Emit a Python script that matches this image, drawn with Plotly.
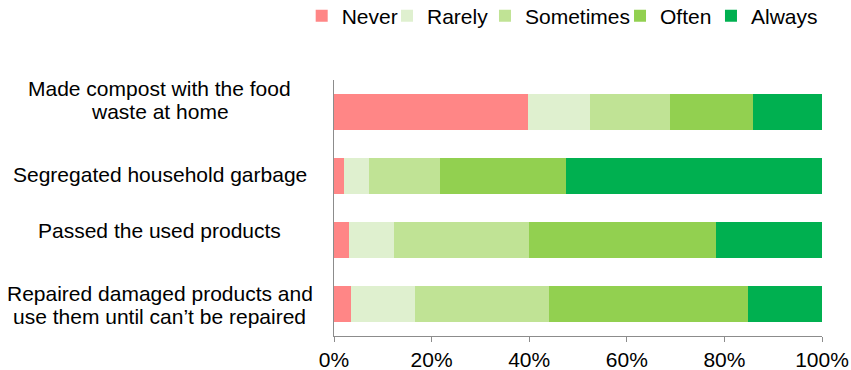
import plotly.graph_objects as go

categories = [
    "Made compost with the food<br>waste at home",
    "Segregated household garbage",
    "Passed the used products",
    "Repaired damaged products and<br>use them until can’t be repaired",
]
series_names = ["Never", "Rarely", "Sometimes", "Often", "Always"]
never = [39.8, 2.1, 3.0, 3.5]
rarely = [12.7, 5.1, 9.2, 13.1]
sometimes = [16.4, 14.6, 27.8, 27.4]
often = [16.9, 25.8, 38.3, 40.9]
always = [14.2, 52.4, 21.7, 15.1]
tick_vals = [0, 20, 40, 60, 80, 100]
tick_text = ["0%", "20%", "40%", "60%", "80%", "100%"]

# styling
colors = ["#FF8686", "#DFF0CF", "#C0E395", "#92D050", "#00B050"]
legend_x = [-0.0662, 0.1086, 0.3094, 0.5861, 0.7725]
label_line_shift = [[24, 1], [1.5], [9.5], [11, -12]]
FONT = "Liberation Sans, Arial, sans-serif"
FS = 21

values = [never, rarely, sometimes, often, always]

fig = go.Figure()
layout_legends = {}
for i, (name, vals, col) in enumerate(zip(series_names, values, colors)):
    key = "legend" if i == 0 else f"legend{i + 1}"
    fig.add_trace(go.Bar(
        y=categories, x=vals, name=name, orientation="h",
        marker=dict(color=col, line=dict(width=0)),
        legend=key,
    ))
    layout_legends[key] = dict(
        orientation="h", x=legend_x[i], xanchor="left", y=1.25, yanchor="middle",
        font=dict(size=FS, family=FONT, color="#000000"), itemclick=False,
        itemwidth=30, bgcolor="rgba(0,0,0,0)",
    )

for c, shifts in zip(categories, label_line_shift):
    for line, ys in zip(c.split("<br>"), shifts):
        fig.add_annotation(
            x=-0.357, xref="paper", y=c, yref="y", text=line, showarrow=False,
            xanchor="center", yanchor="middle", align="center", yshift=ys,
            font=dict(size=FS, color="#000000", family=FONT),
        )

fig.update_layout(
    barmode="stack",
    bargap=0.45,
    width=851, height=370,
    margin=dict(l=334, r=29, t=80, b=34, autoexpand=False),
    paper_bgcolor="white", plot_bgcolor="white",
    font=dict(family=FONT, size=FS, color="#000000"),
    showlegend=True,
    xaxis=dict(range=[0, 100], tickvals=tick_vals, ticktext=tick_text,
               showgrid=False, zeroline=False, showline=True, linecolor="#8c8c8c",
               linewidth=1, ticks="outside", ticklen=5, tickcolor="#8c8c8c",
               tickfont=dict(size=FS)),
    yaxis=dict(autorange="reversed", showticklabels=False, showgrid=False,
               zeroline=False, showline=True, linecolor="#8c8c8c", linewidth=1,
               ticks=""),
    **layout_legends,
)

fig.write_html("out.html")
